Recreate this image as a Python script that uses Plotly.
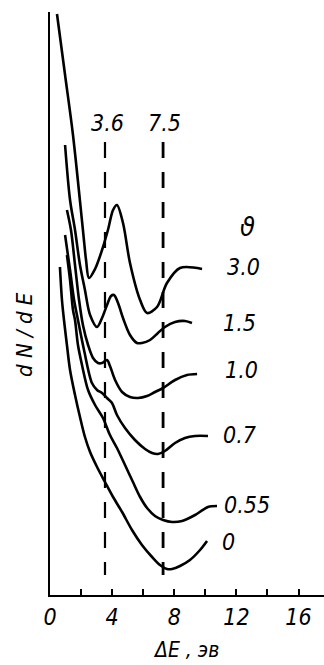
import plotly.graph_objects as go

# ---- data (x = ΔE in eV, y = dN/dE in arbitrary units) ----
theta_labels = ["3.0", "1.5", "1.0", "0.7", "0.55", "0"]

x_30 = [0.45, 0.97, 1.48, 2.12, 2.32, 2.51, 2.90, 3.35, 3.73, 4.06, 4.31, 4.70, 5.15, 5.80, 6.25, 6.89, 7.53, 8.37, 9.79]
y_30 = [58.1, 52.0, 46.0, 36.5, 33.5, 31.7, 32.6, 34.5, 36.5, 38.5, 39.0, 37.2, 33.2, 29.5, 28.2, 28.8, 31.2, 32.7, 32.6]

x_15 = [0.97, 1.29, 1.61, 1.93, 2.25, 2.58, 3.03, 3.35, 3.67, 3.93, 4.12, 4.38, 4.70, 5.15, 5.60, 5.92, 6.44, 6.95, 7.40, 8.05, 8.69, 9.14]
y_15 = [45.0, 39.5, 36.5, 33.0, 30.5, 28.0, 26.8, 27.7, 29.0, 29.9, 30.0, 29.2, 27.7, 26.0, 25.2, 25.2, 25.5, 26.2, 26.8, 27.3, 27.4, 27.2]

x_10 = [1.09, 1.35, 1.61, 1.87, 2.12, 2.45, 2.77, 3.09, 3.35, 3.67, 3.86, 4.19, 4.64, 5.15, 5.67, 6.25, 6.76, 7.28, 8.05, 8.82, 9.47]
y_10 = [38.5, 36.5, 33.0, 29.5, 27.0, 25.0, 23.7, 23.2, 23.2, 23.5, 22.9, 21.5, 20.3, 19.8, 19.7, 19.9, 20.3, 20.7, 21.5, 22.0, 22.1]

x_07 = [0.97, 1.29, 1.55, 1.80, 2.19, 2.70, 3.03, 3.35, 3.67, 3.99, 4.31, 4.83, 5.47, 6.12, 6.57, 6.95, 7.40, 8.05, 8.69, 9.34, 10.17]
y_07 = [36.0, 32.5, 29.5, 27.5, 24.5, 21.2, 20.5, 20.2, 19.7, 19.2, 18.0, 16.7, 15.5, 14.6, 14.2, 14.1, 14.4, 15.2, 15.7, 15.9, 15.9]

x_055 = [1.09, 1.29, 1.48, 1.61, 1.80, 2.06, 2.45, 2.90, 3.41, 3.86, 4.31, 4.83, 5.34, 5.80, 6.25, 6.76, 7.28, 7.86, 8.50, 9.34, 10.17, 10.75]
y_055 = [34.0, 31.5, 28.5, 27.5, 25.0, 23.0, 20.5, 19.0, 17.7, 16.0, 14.7, 13.0, 11.3, 9.8, 8.7, 7.9, 7.5, 7.3, 7.4, 8.0, 8.8, 8.9]

x_0 = [0.64, 0.77, 0.90, 1.09, 1.29, 1.61, 1.93, 2.25, 2.58, 3.03, 3.54, 4.06, 4.64, 5.28, 5.92, 6.57, 7.08, 7.53, 7.86, 8.37, 9.01, 9.66, 10.11]
y_0 = [32.8, 29.5, 27.5, 25.0, 22.5, 20.0, 17.8, 15.8, 14.3, 12.8, 11.3, 9.8, 8.3, 6.5, 5.0, 3.8, 3.0, 2.6, 2.6, 2.9, 3.5, 4.5, 5.4]

# curve label positions (data coords)
label_x = [12.43, 12.23, 12.30, 12.17, 12.69, 11.46]
label_y = [32.8, 27.2, 22.5, 16.0, 9.0, 5.3]

# reference energies (dashed lines): label text and drawn position
ref_labels = ["3.6", "7.5"]
ref_x = [3.54, 7.28]
ref_label_x = [3.67, 7.40]
ref_y_top = 45.3
ref_y_bot = 2.0

x_tickvals = [0, 2, 4, 6, 8, 10, 12, 14, 16]
x_ticktext = ["0", "", "4", "", "8", "", "12", "", "16"]

FONT = "Liberation Sans Narrow, DejaVu Sans Condensed, Liberation Sans, Arial"

fig = go.Figure()

curves = [(x_30, y_30), (x_15, y_15), (x_10, y_10), (x_07, y_07), (x_055, y_055), (x_0, y_0)]
for (xs, ys), name in zip(curves, theta_labels):
    fig.add_trace(go.Scatter(x=xs, y=ys, mode="lines", name=name,
                             line=dict(color="black", width=2.6, shape="spline", smoothing=0.9),
                             showlegend=False, hoverinfo="skip"))

for rx, w in zip(ref_x, [2.2, 2.8]):
    fig.add_trace(go.Scatter(x=[rx, rx], y=[ref_y_top, ref_y_bot], mode="lines",
                             line=dict(color="black", width=w, dash="16px,14px"),
                             showlegend=False, hoverinfo="skip"))

annotations = []
for lx, ly, t in zip(label_x, label_y, theta_labels):
    annotations.append(dict(x=lx, y=ly, xref="x", yref="y", text="<i>" + t + "</i>",
                            showarrow=False, font=dict(size=23, color="black", family=FONT)))
annotations.append(dict(x=12.69, y=36.9, xref="x", yref="y", text="<i>ϑ</i>",
                        showarrow=False, font=dict(size=27, color="black", family=FONT)))
for lx, t in zip(ref_label_x, ref_labels):
    annotations.append(dict(x=lx, y=47.2, xref="x", yref="y", text="<i>" + t + "</i>",
                            showarrow=False, font=dict(size=23, color="black", family=FONT)))
annotations.append(dict(x=-0.095, y=26.1, xref="paper", yref="y", text="<i>d N / d E</i>",
                        xanchor="center", yanchor="middle",
                        textangle=-90, showarrow=False,
                        font=dict(size=22, color="black", family=FONT)))
annotations.append(dict(x=8.76, y=-0.094, xref="x", yref="paper", text="<i>ΔE , эв</i>",
                        xanchor="center", yanchor="middle",
                        showarrow=False, font=dict(size=21, color="black", family=FONT)))

fig.update_layout(
    width=324, height=665,
    margin=dict(l=50, r=0, t=12, b=70),
    paper_bgcolor="white", plot_bgcolor="white",
    annotations=annotations,
    xaxis=dict(range=[0, 17.64], showgrid=False, zeroline=False,
               showline=True, linecolor="black", linewidth=2.4,
               tickmode="array", tickvals=x_tickvals,
               ticktext=["<i>" + t + "</i>" if t else "" for t in x_ticktext],
               ticks="inside", ticklen=6, tickwidth=2, tickcolor="black",
               tickfont=dict(size=23, color="black", family=FONT)),
    yaxis=dict(range=[0, 58.3], showgrid=False, zeroline=False,
               showline=True, linecolor="black", linewidth=2.4,
               showticklabels=False, ticks=""),
)

fig.write_html("out.html", config={"displayModeBar": False},
               post_script="document.body.style.margin='0';document.body.style.padding='0';")
